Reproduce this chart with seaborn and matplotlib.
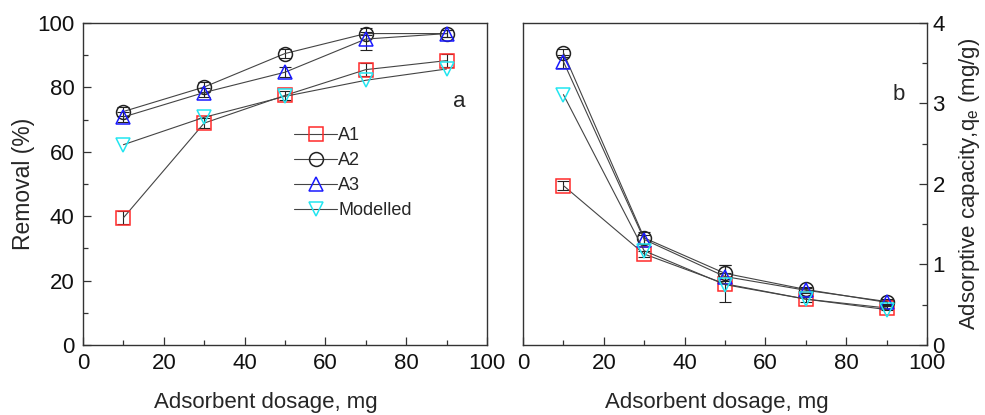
import numpy as np
import pandas as pd
import matplotlib
matplotlib.use("Agg")
import matplotlib.pyplot as plt
import seaborn as sns
from matplotlib.ticker import MultipleLocator

sns.set_theme(style="white")
plt.rcParams["font.family"] = ["Liberation Sans", "DejaVu Sans"]
plt.rcParams["mathtext.fontset"] = "custom"
plt.rcParams["mathtext.rm"] = "Liberation Sans"
plt.rcParams["mathtext.it"] = "Liberation Sans"

dosage = [10, 30, 50, 70, 90]
series = ["A1", "A2", "A3", "Modelled"]

# Removal (%)
removal_A1 = [39.5, 68.9, 77.5, 85.5, 88.3]
removal_A2 = [72.5, 80.1, 90.5, 96.7, 96.7]
removal_A3 = [70.8, 78.4, 84.7, 95.0, 96.7]
removal_mod = [62.2, 70.7, 77.2, 82.2, 85.7]
removal_err_A1 = [2.0, 1.5, 1.5, 2.0, 2.0]
removal_err_A2 = [1.5, 1.5, 1.5, 0.5, 1.0]
removal_err_A3 = [1.5, 1.5, 1.5, 3.5, 1.0]

# Adsorptive capacity qe (mg/g)
qe_A1 = [1.98, 1.13, 0.76, 0.57, 0.46]
qe_A2 = [3.63, 1.33, 0.89, 0.69, 0.53]
qe_A3 = [3.52, 1.31, 0.85, 0.68, 0.54]
qe_mod = [3.11, 1.17, 0.75, 0.57, 0.44]
qe_err_A1 = [0.06, 0.04, 0.23, 0.03, 0.03]
qe_err_A2 = [0.05, 0.07, 0.10, 0.03, 0.03]
qe_err_A3 = [0.08, 0.05, 0.05, 0.03, 0.03]

marker_map = {"A1": "s", "A2": "o", "A3": "^", "Modelled": "v"}
edge_map = {"A1": "#ff2a2a", "A2": "#222222", "A3": "#1a1aff", "Modelled": "#22e5f0"}

def long_table(a1, a2, a3, mod):
    rows = []
    for name, vals in zip(series, [a1, a2, a3, mod]):
        for d, v in zip(dosage, vals):
            rows.append({"dosage": d, "value": v, "series": name})
    return pd.DataFrame(rows)

df_rem = long_table(removal_A1, removal_A2, removal_A3, removal_mod)
df_qe = long_table(qe_A1, qe_A2, qe_A3, qe_mod)

fig = plt.figure(figsize=(9.85, 4.15), dpi=100)
ax1 = fig.add_axes([0.0843, 0.1687, 0.410, 0.776])
ax2 = fig.add_axes([0.531, 0.1687, 0.410, 0.776])

def draw(ax, df, errs):
    for name in series:
        sub = df[df["series"] == name]
        if name in errs:
            ax.errorbar(sub["dosage"], sub["value"], yerr=errs[name], fmt="none",
                        ecolor="#222222", elinewidth=0.8, capsize=4, capthick=0.8, zorder=3)
        sns.lineplot(data=sub, x="dosage", y="value", ax=ax, color="#444444",
                     linewidth=0.8, marker=marker_map[name], markersize=10,
                     markerfacecolor="none", markeredgecolor=edge_map[name],
                     markeredgewidth=1.1, label=name, zorder=4, legend=False)

draw(ax1, df_rem, {"A1": removal_err_A1, "A2": removal_err_A2, "A3": removal_err_A3})
draw(ax2, df_qe, {"A1": qe_err_A1, "A2": qe_err_A2, "A3": qe_err_A3})

for ax in (ax1, ax2):
    ax.set_xlim(0, 100)
    ax.xaxis.set_major_locator(MultipleLocator(20))
    ax.xaxis.set_minor_locator(MultipleLocator(10))
    ax.set_xlabel("Adsorbent dosage, mg", fontsize=16)
    for s in ax.spines.values():
        s.set_color("#333333")
        s.set_linewidth(1.0)
    ax.tick_params(axis="both", which="major", direction="in", length=6, width=0.9,
                   color="#333333", labelsize=16, labelcolor="#111111", pad=6)
    ax.tick_params(axis="both", which="minor", direction="in", length=3.5, width=0.9,
                   color="#333333")

ax1.xaxis.set_label_coords(0.453, -0.146)
ax2.xaxis.set_label_coords(0.48, -0.146)

ax1.set_ylim(0, 100)
ax1.yaxis.set_major_locator(MultipleLocator(20))
ax1.yaxis.set_minor_locator(MultipleLocator(10))
ax1.set_ylabel("Removal (%)", fontsize=16.5, labelpad=2)
ax1.tick_params(axis="x", which="both", bottom=True)
ax1.tick_params(axis="y", which="both", left=True)
ax1.text(0.915, 0.74, "a", transform=ax1.transAxes, fontsize=16)
ax1.legend(frameon=False, loc="upper left", bbox_to_anchor=(0.5, 0.705),
           fontsize=13, handlelength=2.4, handletextpad=0.05, labelspacing=0.45,
           borderpad=0)

ax2.set_ylim(0, 4)
ax2.yaxis.set_major_locator(MultipleLocator(1))
ax2.yaxis.set_minor_locator(MultipleLocator(0.5))
ax2.yaxis.tick_right()
ax2.yaxis.set_label_position("right")
ax2.tick_params(axis="y", which="both", left=False, right=True)
ax2.tick_params(axis="y", which="major", pad=4)
ax2.tick_params(axis="x", which="both", bottom=True)
ax2.set_ylabel("Adsorptive capacity,q$_{e}$ (mg/g)", fontsize=16, labelpad=9)
ax2.text(0.915, 0.76, "b", transform=ax2.transAxes, fontsize=16)

fig.savefig("out.png", dpi=100)
